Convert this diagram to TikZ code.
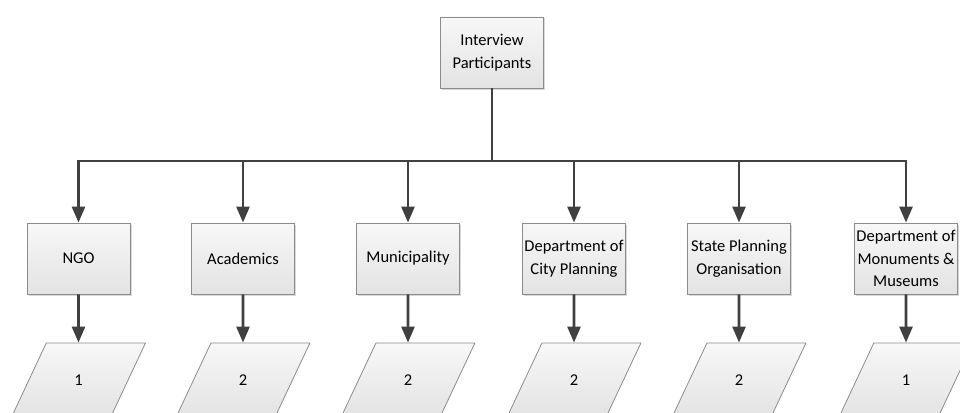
\documentclass[tikz,border=0pt]{standalone}
\usepackage{fontspec}
\setmainfont{Carlito}
\usetikzlibrary{arrows.meta,shapes.geometric,shadows}
\definecolor{linedark}{HTML}{404040}
\definecolor{boxedge}{HTML}{8C8C8C}
\begin{document}
\begin{tikzpicture}[x=1pt,y=-1pt,
  every node/.style={font=\fontsize{16.5}{22.7}\selectfont},
  box/.style={draw=boxedge,line width=0.8pt,rectangle,
    minimum width=103pt,minimum height=71pt,inner sep=2pt,align=center,
    top color=white!97!black,bottom color=black!11,
    drop shadow={shadow xshift=1.5pt,shadow yshift=-1.5pt,fill=black!25,opacity=0.6}},
  count/.style={draw=boxedge,line width=0.8pt,trapezium,
    trapezium left angle=67,trapezium right angle=113,
    trapezium stretches=true,
    minimum width=134pt,minimum height=74pt,inner sep=0pt,
    top color=white!97!black,bottom color=black!11},
  conn/.style={draw=linedark,line width=2.6pt},
  arr/.style={conn,-{Triangle[length=16pt,width=13pt]}}]
\useasboundingbox (0,0) rectangle (960,412);
\clip (0,0) rectangle (960,412);

% root
\node[box] (root) at (492,52.5) {Interview\\Participants};
\coordinate (bus) at (492,161);

% second level
\node[box] (ngo)  at (78.5,258.5)  {NGO};
\node[box] (acad) at (243,258.5)  {Academics};
\node[box] (muni) at (408,258.5)  {Municipality};
\node[box] (dcp)  at (574,258.5)  {Department of\\City Planning};
\node[box] (spo)  at (739,258.5)  {State Planning\\Organisation};
\node[box] (dmm)  at (906,258.5)  {Department of\\Monuments \&\\Museums};

% counts
\node[count] (cngo)  at (78.5,380) {1};
\node[count] (cacad) at (243,380) {2};
\node[count] (cmuni) at (408,380) {2};
\node[count] (cdcp)  at (574,380) {2};
\node[count] (cspo)  at (739,380) {2};
\node[count] (cdmm)  at (906,380) {1};

% connectors
\draw[conn] (root.south) -- (bus);
\foreach \n in {ngo,acad,muni,dcp,spo,dmm}{
  \draw[arr] (bus) -| (\n.north);
  \draw[arr] (\n.south) -- (c\n.north);
}
\end{tikzpicture}
\end{document}
